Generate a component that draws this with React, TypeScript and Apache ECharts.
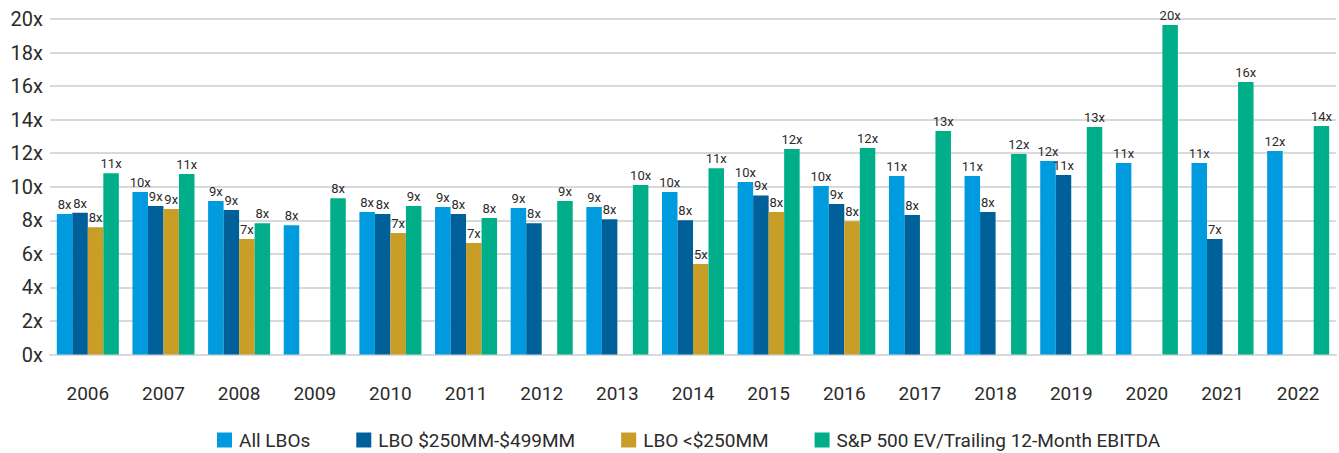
import React, { useEffect, useRef } from "react";
import * as echarts from "echarts";

const years = ["2006","2007","2008","2009","2010","2011","2012","2013","2014","2015","2016","2017","2018","2019","2020","2021","2022"];
const allLBOs = [8.37, 9.68, 9.15, 7.71, 8.49, 8.79, 8.73, 8.79, 9.68, 10.28, 10.04, 10.64, 10.64, 11.53, 11.41, 11.41, 12.13];
const lbo250to499 = [8.45, 8.85, 8.61, null, 8.37, 8.37, 7.83, 8.07, 8.01, 9.48, 8.97, 8.31, 8.49, 10.7, null, 6.88, null];
const lboUnder250 = [7.59, 8.67, 6.88, null, 7.24, 6.64, null, null, 5.39, 8.49, 7.95, null, null, null, null, null, null];
const sp500 = [10.81, 10.76, 7.83, 9.32, 8.85, 8.13, 9.15, 10.1, 11.11, 12.25, 12.31, 13.32, 11.95, 13.56, 19.64, 16.24, 13.62];
const sp500Labels = ["11x","11x","8x","8x","9x","8x","9x","10x","11x","12x","12x","13x","12x","13x","20x","16x","14x"];
const seriesNames = ["All LBOs", "LBO $250MM-$499MM", "LBO <$250MM", "S&P 500 EV/Trailing 12-Month EBITDA"];
const colors = ["#009BDF", "#00609A", "#C99E27", "#00AF8A"];

const FONT = "Roboto";
const TEXT = "#2b2b2b";

export default function App() {
  const ref = useRef<HTMLDivElement>(null);
  useEffect(() => {
    document.body.style.margin = "0";
    const chart = echarts.init(ref.current!, null, { renderer: "svg" });
    const label = (fmt?: (p: any) => string) => ({
      show: true,
      position: "top",
      distance: 3,
      color: TEXT,
      fontFamily: FONT,
      fontSize: 13,
      formatter: fmt || ((p: any) => `${Math.round(p.value)}x`),
    });
    const datasets = [allLBOs, lbo250to499, lboUnder250, sp500];
    chart.setOption({
      animation: false,
      color: colors,
      grid: { left: 50, right: 3, top: 19, bottom: 98.5, containLabel: false },
      legend: {
        data: seriesNames,
        left: 217,
        top: 430,
        padding: 0,
        itemWidth: 15,
        itemHeight: 15,
        itemGap: 46,
        icon: "rect",
        textStyle: { color: TEXT, fontFamily: FONT, fontSize: 19, lineHeight: 20, padding: [0, 0, 0, 2] },
      },
      xAxis: {
        type: "category",
        data: years,
        axisLine: { show: true, lineStyle: { color: "#d6dadd", width: 2 } },
        axisTick: { show: false },
        axisLabel: { color: TEXT, fontFamily: FONT, fontSize: 19, margin: 29 },
      },
      yAxis: {
        type: "value",
        min: 0,
        max: 20,
        interval: 2,
        axisLine: { show: false },
        axisTick: { show: false },
        splitLine: { lineStyle: { color: "#d6dadd", width: 2 } },
        axisLabel: { color: TEXT, fontFamily: FONT, fontSize: 20, margin: 7, formatter: "{value}x" },
      },
      series: seriesNames.map((name, i) => ({
        name,
        type: "bar",
        data: datasets[i],
        barGap: "0%",
        barCategoryGap: "18%",
        label: i === 3 ? label((p: any) => sp500Labels[p.dataIndex]) : label(),
      })),
    });
    return () => chart.dispose();
  }, []);
  return <div ref={ref} style={{ width: 1339, height: 453 }} />;
}
